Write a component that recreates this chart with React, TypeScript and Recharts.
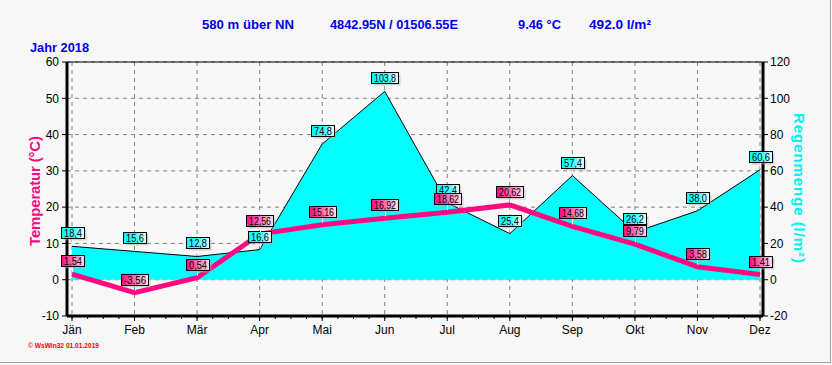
import React from 'react';
import { ComposedChart, Area, Line, XAxis, YAxis, CartesianGrid, LabelList, ReferenceLine } from 'recharts';

const months = ['Jän', 'Feb', 'Mär', 'Apr', 'Mai', 'Jun', 'Jul', 'Aug', 'Sep', 'Okt', 'Nov', 'Dez'];
const tempValues = [1.54, -3.56, 0.54, 12.56, 15.16, 16.92, 18.62, 20.62, 14.68, 9.79, 3.58, 1.41];
const rainValues = [18.4, 15.6, 12.8, 16.6, 74.8, 103.8, 42.4, 25.4, 57.4, 26.2, 38.0, 60.6];
const tempTicks = [-10, 0, 10, 20, 30, 40, 50, 60];
const rainTicks = [-20, 0, 20, 40, 60, 80, 100, 120];
const minorSteps = 4; // sub-divisions per month on the x axis

const titleParts = ['580 m über NN', '4842.95N / 01506.55E', '9.46 °C', '492.0 l/m²'];
const yearLabel = 'Jahr  2018';
const tempTitle = 'Temperatur  (°C)';
const rainTitle = 'Regenmenge  (l/m²)';
const footer = '© WsWin32  01.01.2019';

const data = months.map((m, i) => ({ month: m, temp: tempValues[i], rain: rainValues[i] }));
const minorTicks = Array.from({ length: (months.length - 1) * minorSteps + 1 }, (_, i) => i / minorSteps);

const TEMP_COLOR = '#ff0a80';
const RAIN_COLOR = '#00ffff';
const FONT = '"Liberation Sans", Arial, sans-serif';

const makeLabel = (kind: 'rain' | 'temp') => (props: any) => {
  const x = props.x ?? props.viewBox?.x;
  const y = props.y ?? props.viewBox?.y;
  const value = props.value;
  if (x == null || y == null || value == null) return null;
  const text = (kind === 'rain' ? Number(value).toFixed(1) : Number(value).toFixed(2)).replace('.', ',');
  const w = text.length * 4 + 7;
  const h = 11;
  const bx = Math.round(x - w / 2) + 0.5;
  const by = Math.round(y - 8 - h) + 0.5;
  return (
    <g>
      <line x1={Math.round(x) + 0.5} x2={Math.round(x) + 0.5} y1={by + h} y2={y - 2} stroke="#ffffff" strokeWidth={1} />
      <rect x={bx + 2} y={by + 2} width={w} height={h} fill="#b0b0b0" opacity={0.5} />
      <rect x={bx} y={by} width={w} height={h} fill={`url(#grad-${kind})`} stroke="#000" strokeWidth={1} />
      <text x={bx + w / 2} y={by + h - 2} textAnchor="middle" fontSize={10} fontFamily={FONT} fill="#000" textLength={w - 5} lengthAdjust="spacingAndGlyphs">
        {text}
      </text>
    </g>
  );
};

const EmptyTick = () => <g />;
const monthFormatter = (v: number) => (Number.isInteger(v) ? months[v] : '');

export default function App() {
  return (
    <div style={{ position: 'absolute', left: 0, top: 0, width: 832, height: 365, background: '#f7f7f7', overflow: 'hidden' }}>
      <svg width={832} height={365} style={{ position: 'absolute', left: 0, top: 0 }}>
        <defs>
          <linearGradient id="grad-rain" x1="0" y1="0" x2="1" y2="0">
            <stop offset="0" stopColor="#00ffff" />
            <stop offset="0.55" stopColor="#40ffff" />
            <stop offset="1" stopColor="#f0ffff" />
          </linearGradient>
          <linearGradient id="grad-temp" x1="0" y1="0" x2="1" y2="0">
            <stop offset="0" stopColor="#ff0a80" />
            <stop offset="0.5" stopColor="#ff70b4" />
            <stop offset="1" stopColor="#ffe0f0" />
          </linearGradient>
        </defs>
        <g fontFamily={FONT} fontWeight="bold" fontSize={13} fill="#0000f0">
          <text x={202} y={29} textLength={92} lengthAdjust="spacingAndGlyphs">{titleParts[0]}</text>
          <text x={330} y={29} textLength={128} lengthAdjust="spacingAndGlyphs">{titleParts[1]}</text>
          <text x={518} y={29} textLength={43} lengthAdjust="spacingAndGlyphs">{titleParts[2]}</text>
          <text x={589} y={29} textLength={62} lengthAdjust="spacingAndGlyphs">{titleParts[3]}</text>
          <text x={30} y={52} textLength={59} lengthAdjust="spacingAndGlyphs">{yearLabel}</text>
        </g>
        <text
          transform="translate(40,191) rotate(-90)"
          textAnchor="middle"
          fontFamily={FONT}
          fontWeight="bold"
          fontSize={15}
          fill={TEMP_COLOR}
          textLength={110}
          lengthAdjust="spacing"
        >
          {tempTitle}
        </text>
        <text
          transform="translate(794,188) rotate(90)"
          textAnchor="middle"
          fontFamily={FONT}
          fontWeight="bold"
          fontSize={15}
          fill="#00f0f0"
          textLength={150}
          lengthAdjust="spacing"
        >
          {rainTitle}
        </text>
        <text x={28} y={348} fontFamily={FONT} fontWeight="bold" fontSize={8} fill="#ff0000" textLength={71} lengthAdjust="spacingAndGlyphs">
          {footer}
        </text>
        <line x1={830.5} x2={830.5} y1={0} y2={363} stroke="#a0a0a0" />
        <line x1={0} x2={831} y1={362.5} y2={362.5} stroke="#a0a0a0" />
      </svg>
      <div style={{ position: 'absolute', left: 0, top: 0 }}>
        <ComposedChart width={832} height={365} data={data} margin={{ top: 62, right: 0, bottom: 0, left: 0 }}>
          <CartesianGrid xAxisId="main" yAxisId="left" stroke="#808080" strokeDasharray="4 4" />
          <XAxis
            xAxisId="main"
            dataKey="month"
            scale="point"
            padding={{ left: 5, right: 3 }}
            height={1}
            axisLine={{ stroke: '#000', strokeWidth: 3 }}
            tickLine={{ stroke: '#000' }}
            tickSize={5}
            tick={EmptyTick}
            interval={0}
          />
          <XAxis
            xAxisId="minor"
            type="number"
            domain={[0, months.length - 1]}
            ticks={minorTicks}
            padding={{ left: 5, right: 3 }}
            height={48}
            axisLine={false}
            tickLine={{ stroke: '#000' }}
            tickSize={2}
            tickMargin={6}
            tickFormatter={monthFormatter}
            tick={{ fill: '#000', fontSize: 12, fontFamily: FONT }}
            interval={0}
          />
          <YAxis
            yAxisId="left"
            domain={[-10, 60]}
            ticks={tempTicks}
            width={67}
            axisLine={{ stroke: '#000', strokeWidth: 3 }}
            tickLine={{ stroke: '#000' }}
            tickSize={5}
            tickMargin={3}
            tick={{ fill: '#000', fontSize: 12, fontFamily: FONT }}
            allowDataOverflow
          />
          <YAxis
            yAxisId="right"
            orientation="right"
            domain={[-20, 120]}
            ticks={rainTicks}
            width={69}
            axisLine={{ stroke: '#000', strokeWidth: 3 }}
            tickLine={{ stroke: '#000' }}
            tickSize={5}
            tickMargin={2}
            tick={{ fill: '#000', fontSize: 12, fontFamily: FONT, textAnchor: 'start' }}
            allowDataOverflow
          />
          <ReferenceLine xAxisId="main" yAxisId="left" y={60} stroke="#000" strokeWidth={1} />
          <Area
            xAxisId="main"
            yAxisId="right"
            type="linear"
            dataKey="rain"
            fill={RAIN_COLOR}
            fillOpacity={1}
            stroke="#000"
            strokeWidth={1}
            isAnimationActive={false}
            dot={false}
            activeDot={false}
          >
            <LabelList dataKey="rain" content={makeLabel('rain')} />
          </Area>
          <Line
            xAxisId="main"
            yAxisId="left"
            type="linear"
            dataKey="temp"
            stroke={TEMP_COLOR}
            strokeWidth={5}
            dot={false}
            activeDot={false}
            isAnimationActive={false}
          >
            <LabelList dataKey="temp" content={makeLabel('temp')} />
          </Line>
        </ComposedChart>
      </div>
    </div>
  );
}
